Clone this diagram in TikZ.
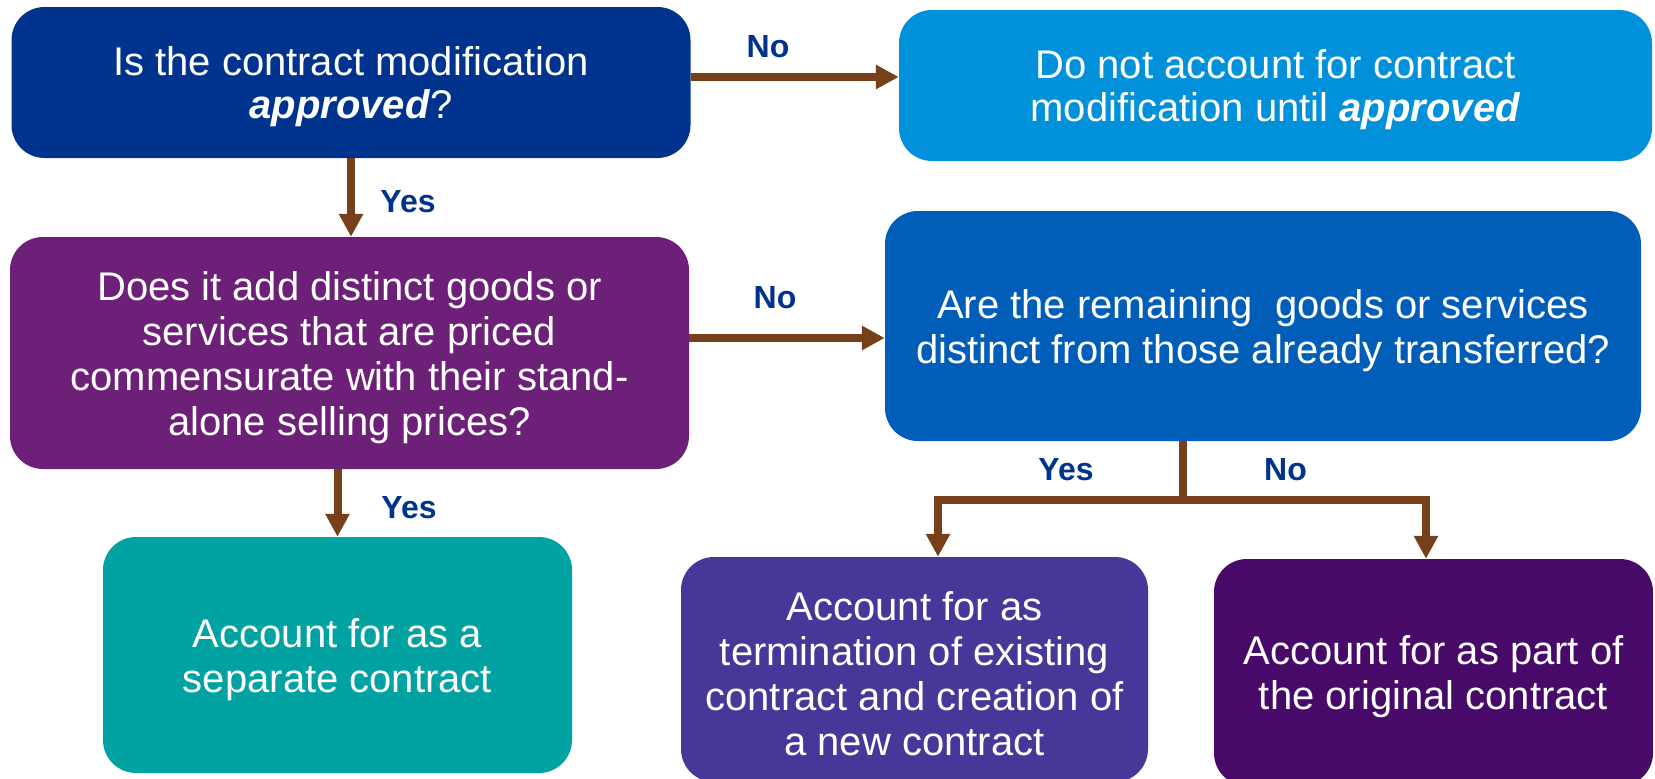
\documentclass[tikz,border=0pt]{standalone}
\usepackage{fontspec}
\setmainfont{Liberation Sans}
\usetikzlibrary{arrows.meta}

\definecolor{navyq}{RGB}{0,51,141}
\definecolor{skyq}{RGB}{0,145,218}
\definecolor{plumq}{RGB}{109,32,119}
\definecolor{cobaltq}{RGB}{0,94,184}
\definecolor{tealq}{RGB}{0,163,161}
\definecolor{indigoq}{RGB}{72,54,152}
\definecolor{grapeq}{RGB}{71,10,104}
\definecolor{brownq}{RGB}{120,64,26}
\definecolor{labelq}{RGB}{0,51,141}

\begin{document}
\begin{tikzpicture}[x=1pt,y=-1pt,
  boxq/.style={rounded corners=33pt, inner sep=0pt},
  txt/.style={yshift=-4.5pt, inner sep=0pt, align=center, text=white,
    font=\fontsize{40}{45}\selectfont},
  txttop/.style={txt, font=\fontsize{40}{43}\selectfont},
  flow/.style={draw=brownq, line width=8pt, line join=miter},
  arr/.style={flow, -{Triangle[length=23pt,width=23pt]}},
  ans/.style={text=labelq, font=\bfseries\fontsize{32}{36}\selectfont, inner sep=0pt}]

\useasboundingbox (0,0) rectangle (1655,779);

% decision and outcome boxes, text set as a centred label
\node[boxq, fill=navyq, minimum width=679pt, minimum height=151pt,
  label={[txttop]center:{Is the contract modification\\\textbf{\textit{approved}}?}}]
  (b1) at (351,82.5) {};
\node[boxq, fill=skyq, minimum width=753pt, minimum height=151pt,
  label={[txttop]center:{Do not account for contract\\modification until \textbf{\textit{approved}}}}]
  (b2) at (1275.5,85.5) {};
\node[boxq, fill=plumq, minimum width=679pt, minimum height=232pt,
  label={[txt]center:{Does it add distinct goods or\\services that are priced\\commensurate with their stand-\\alone selling prices?}}]
  (b3) at (349.5,353) {};
\node[boxq, fill=cobaltq, minimum width=756pt, minimum height=230pt,
  label={[txt]center:{Are the remaining\ \ goods or services\\distinct from those already transferred?}}]
  (b4) at (1263,326) {};
\node[boxq, fill=tealq, minimum width=469pt, minimum height=236pt,
  label={[txt]center:{Account for as a\\separate contract}}]
  (b5) at (337.5,655) {};
\node[boxq, fill=indigoq, minimum width=467pt, minimum height=225pt,
  label={[txt]center:{Account for as\\termination of existing\\contract and creation of\\a new contract}}]
  (b6) at (914.5,669.5) {};
\node[boxq, fill=grapeq, minimum width=439pt, minimum height=227pt,
  label={[txt]center:{Account for as part of\\the original contract}}]
  (b7) at (1433.5,672.5) {};

% branch labels
\node[ans] (n1) at (768,47) {No};
\node[ans] (y1) at (408,202) {Yes};
\node[ans] (n2) at (775,298) {No};
\node[ans] (y2) at (409,508) {Yes};
\node[ans] (y3) at (1066,470) {Yes};
\node[ans] (n3) at (1285.5,470) {No};

% connectors
\draw[arr] ([yshift=5.5pt]b1.east) -- ([yshift=5.5pt]b1.east -| b2.west);
\draw[arr] (b1.south) -- (b1.south |- b3.north);
\draw[arr] ([yshift=15pt]b3.east) -- ([yshift=15pt]b3.east -| b4.west);
\draw[arr] (b5.north |- b3.south) -- (b5.north);

\coordinate (split) at (1183,499.5);
\draw[flow] (split |- b4.south) -- (split);
\draw[arr] (split) -| ([xshift=23.5pt]b6.north);
\draw[arr] (split) -| ([xshift=-7.5pt]b7.north);

\end{tikzpicture}
\end{document}
